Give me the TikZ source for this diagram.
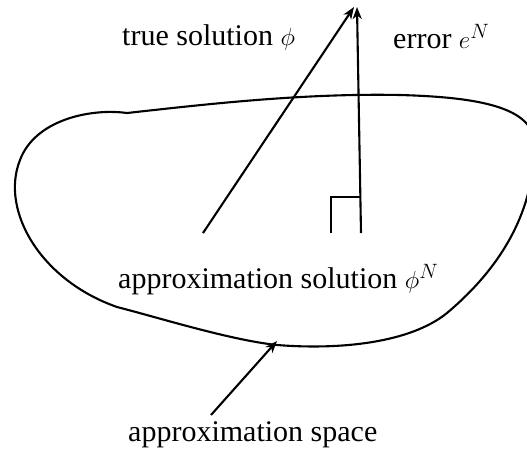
\documentclass[tikz,border=0pt]{standalone}
\usepackage{fontspec}
\setmainfont{Liberation Serif}
\usetikzlibrary{arrows.meta}
\begin{document}
\begin{tikzpicture}[x=1pt,y=-1pt,
  line/.style={line width=2.1pt},
  arr/.style={line width=2.1pt,-{Stealth[length=12pt,width=9pt,inset=3.5pt]}},
  lbl/.style={anchor=base west,inner sep=0pt,font=\fontsize{30}{36}\selectfont}]
\useasboundingbox (0,0) rectangle (527,453);
\begin{scope}
\clip (0,0) rectangle (527,453);
% approximation space boundary
\draw[line] (127,113) .. controls (200,105) and (300,93) .. (400,95)
  .. controls (470,97) and (530,105) .. (534,140)
  .. controls (536,200) and (510,260) .. (447,313)
  .. controls (410,343) and (340,350) .. (277,345)
  .. controls (230,340) and (160,318) .. (117,307)
  .. controls (40,280) and (0,210) .. (20,160)
  .. controls (35,120) and (90,108) .. (127,113) -- cycle;
\end{scope}
% labels
\node[lbl] (ltrue) at (122,45) {true solution $\phi$};
\node[lbl] (lerr) at (393,48) {error $e^N$};
\node[lbl] (lapp) at (118,288) {approximation solution $\phi^N$};
\node[lbl] (lspace) at (128,441) {approximation space};
% points
\coordinate (phiN) at (203,233);
\coordinate (phi) at (354,7);
\coordinate (ebase) at (361,233);
\coordinate (etip) at (357,7);
\coordinate (rA) at (331,233);
\coordinate (rB) at (331,197);
\coordinate (rC) at (360.2,197);
\coordinate (stail) at (211,415);
\coordinate (stip) at (277,341);
% arrows
\draw[arr] (phiN) -- (phi);
\draw[arr] (ebase) -- (etip);
\draw[line] (rA) -- (rB) -- (rC);
\draw[arr] (stail) -- (stip);
\end{tikzpicture}
\end{document}
